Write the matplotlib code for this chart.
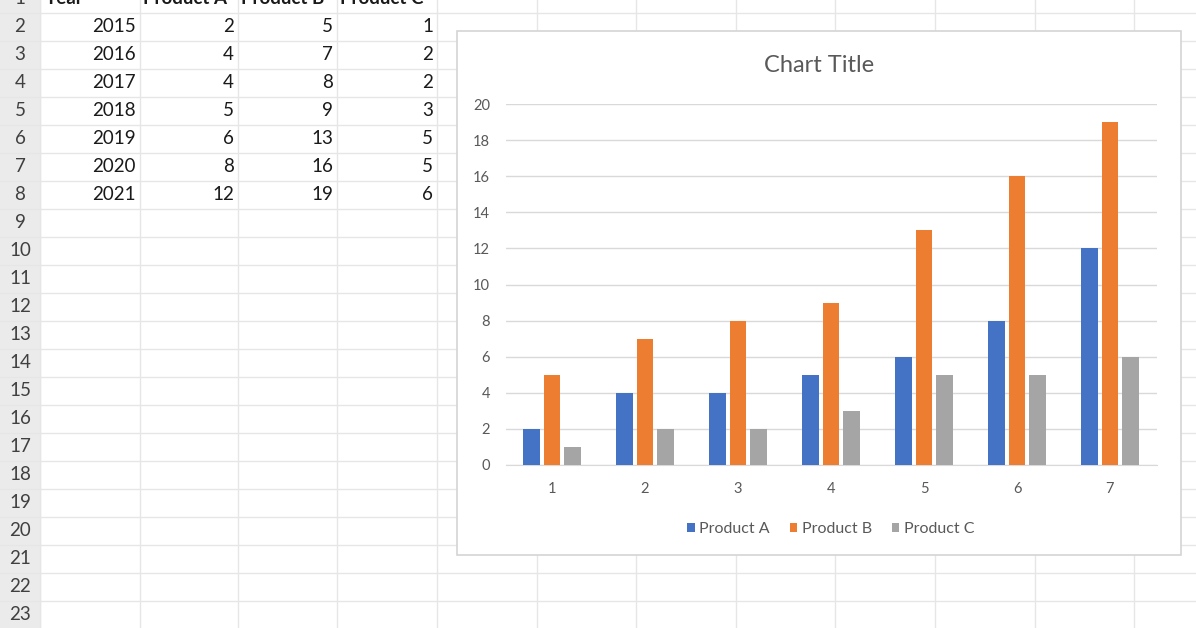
import matplotlib
matplotlib.use('Agg')
import matplotlib.pyplot as plt
from matplotlib.patches import Rectangle
import numpy as np

# ---- data (sheet + chart) ----
years = [2015, 2016, 2017, 2018, 2019, 2020, 2021]
product_a = [2, 4, 4, 5, 6, 8, 12]
product_b = [5, 7, 8, 9, 13, 16, 19]
product_c = [1, 2, 2, 3, 5, 5, 6]
headers = ['Year', 'Product A', 'Product B', 'Product C']
categories = ['1', '2', '3', '4', '5', '6', '7']
row_numbers = list(range(1, 24))

BLUE, ORANGE, GRAY = '#4472C4', '#ED7D31', '#A5A5A5'
FONT = ['Lato', 'DejaVu Sans']
plt.rcParams['font.family'] = FONT

W, H = 1196, 628
fig = plt.figure(figsize=(W / 100, H / 100), dpi=100)
fig.patch.set_facecolor('white')

# ---- background worksheet, pixel coordinates ----
bg = fig.add_axes([0, 0, 1, 1])
bg.set_xlim(0, W)
bg.set_ylim(H, 0)
bg.axis('off')

row_h = 28
row0 = -1            # centre of row 1 (cut off by the screenshot)
col_edges = [40, 140, 238, 337, 437, 537, 636, 736, 835, 935, 1035, 1134]
sheet_fs = 13.5

bg.add_patch(Rectangle((0, 0), 40, H, color='#EBEBEB', zorder=0))
for x in col_edges:
    bg.plot([x, x], [0, H], color='#E6E6E6', lw=1, zorder=1)
for r in row_numbers:
    yc = row0 + (r - 1) * row_h
    bg.plot([0, W], [yc + row_h / 2, yc + row_h / 2], color='#E6E6E6', lw=1, zorder=1)
    bg.text(20, yc, str(r), ha='center', va='center', fontsize=sheet_fs, color='#404040')

# header row
bg.text(44, row0, headers[0], ha='left', va='center', fontsize=sheet_fs, fontweight='bold',
        color='#1A1A1A')
for i, h in enumerate(headers[1:]):
    bg.text(col_edges[i + 1] + 3, row0, h, ha='left', va='center', fontsize=sheet_fs,
            fontweight='bold', color='#1A1A1A')

for i, yr in enumerate(years):
    yc = row0 + (i + 1) * row_h
    vals = [yr, product_a[i], product_b[i], product_c[i]]
    for j, v in enumerate(vals):
        bg.text(col_edges[j + 1] - 4, yc, str(v), ha='right', va='center',
                fontsize=sheet_fs, color='#1A1A1A')

# chart frame
bg.add_patch(Rectangle((457, 31), 724, 524, facecolor='white', edgecolor='#D4D4D4',
                       lw=1.2, zorder=3))
bg.text(819, 65, 'Chart Title', ha='center', va='center', fontsize=17,
        color='#595959', zorder=4)

# ---- column chart ----
ax = fig.add_axes([505.5 / W, 1 - 465 / H, 651 / W, 361 / H], zorder=5)
ax.patch.set_alpha(0)
x = np.arange(len(categories))
w = 0.1745
off = 0.2216
ax.bar(x - off, product_a, w, color=BLUE, label='Product A', zorder=3)
ax.bar(x, product_b, w, color=ORANGE, label='Product B', zorder=3)
ax.bar(x + off, product_c, w, color=GRAY, label='Product C', zorder=3)

ax.set_xlim(-0.5, len(categories) - 0.5)
ax.set_ylim(0, 20)
ax.set_yticks(np.arange(0, 21, 2))
ax.set_xticks(x)
ax.set_xticklabels(categories)
ax.grid(axis='y', color='#D9D9D9', lw=1, zorder=0)
for s in ['top', 'right', 'left']:
    ax.spines[s].set_visible(False)
ax.spines['bottom'].set_color('#D9D9D9')
ax.tick_params(length=0, labelsize=10.5, colors='#595959')
ax.tick_params(axis='y', pad=11)
ax.tick_params(axis='x', pad=12)

leg = ax.legend(loc='upper center', bbox_to_anchor=(0.5, -0.118), ncol=3, frameon=False,
                fontsize=11.5, handlelength=0.45, handleheight=0.45, handletextpad=0.3,
                columnspacing=1.25, labelcolor='#595959')

fig.savefig('out.png', dpi=100)
